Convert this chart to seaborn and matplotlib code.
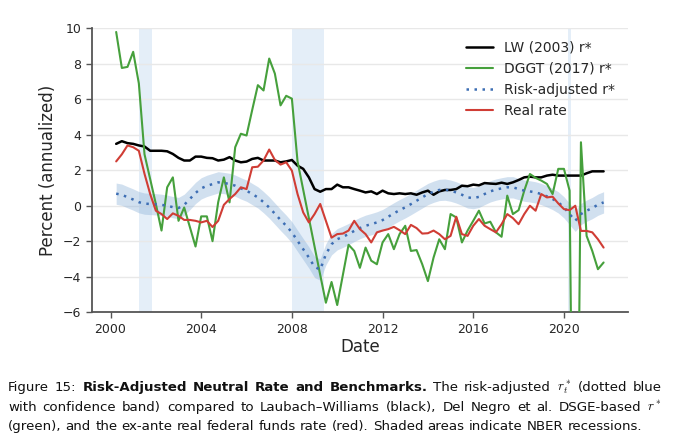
import matplotlib
matplotlib.use("Agg")
import numpy as np
import pandas as pd
import matplotlib.pyplot as plt
import seaborn as sns
from matplotlib import font_manager

# quarterly observations, 2000Q2 .. 2021Q4
quarters = pd.period_range("2000Q2", "2021Q4", freq="Q")
years = np.asarray(quarters.year + (quarters.quarter - 1) / 4, dtype=float)

lw_rstar = [
    3.49, 3.64, 3.53,
    3.49, 3.40, 3.34, 3.10,
    3.10, 3.10, 3.07, 2.92,
    2.70, 2.55, 2.55, 2.77,
    2.77, 2.70, 2.68, 2.55,
    2.60, 2.74, 2.55, 2.45,
    2.49, 2.64, 2.70, 2.55,
    2.55, 2.55, 2.45, 2.50,
    2.58, 2.26, 2.08, 1.60,
    0.94, 0.79, 0.94, 0.94,
    1.19, 1.04, 1.04, 0.94,
    0.85, 0.75, 0.81, 0.66,
    0.85, 0.70, 0.66, 0.70,
    0.66, 0.70, 0.62, 0.75,
    0.85, 0.62, 0.81, 0.89,
    0.89, 0.94, 1.13, 1.10,
    1.19, 1.15, 1.28, 1.25,
    1.23, 1.30, 1.23, 1.32,
    1.45, 1.60, 1.64, 1.60,
    1.60, 1.70, 1.75, 1.70,
    1.70, 1.70, 1.70, 1.70,
    1.83, 1.94, 1.94, 1.94,
]

dggt_rstar = [
    9.80, 7.77, 7.83,
    8.68, 6.90, 2.90, 1.50,
    0.10, -1.40, 1.04, 1.60,
    -0.85, -0.10, -1.20, -2.30,
    -0.60, -0.60, -2.00, 0.20,
    1.60, 0.19, 3.30, 4.06,
    3.96, 5.40, 6.80, 6.50,
    8.30, 7.45, 5.66, 6.20,
    6.04, 2.50, 0.90, -0.70,
    -2.30, -3.90, -5.47, -4.30,
    -5.60, -3.90, -2.20, -2.55,
    -3.50, -2.36, -3.10, -3.30,
    -2.07, -1.60, -2.45, -1.60,
    -1.13, -2.55, -2.50, -3.30,
    -4.25, -2.92, -1.89, -2.45,
    -0.47, -0.66, -2.07, -1.40,
    -0.85, -0.28, -1.00, -0.90,
    -1.50, -1.75, 0.57, -0.47,
    -0.25, 0.85, 1.79, 1.57,
    1.42, 1.23, 0.66, 2.08,
    2.08, 0.85, -30.0, 3.58,
    -1.70, -2.55, -3.58, -3.20,
]

risk_adj = [
    0.68, 0.62, 0.48,
    0.35, 0.20, 0.12, 0.10,
    0.08, 0.05, 0.00, -0.08,
    -0.13, 0.05, 0.38, 0.72,
    0.98, 1.12, 1.22, 1.32,
    1.28, 1.23, 1.13, 0.98,
    0.85, 0.66, 0.47, 0.20,
    -0.10, -0.45, -0.80, -1.13,
    -1.50, -1.98, -2.45, -2.92,
    -3.45, -3.60, -2.74, -2.17,
    -1.89, -1.75, -1.60, -1.42,
    -1.26, -1.13, -1.04, -0.94,
    -0.81, -0.62, -0.43, -0.25,
    -0.09, 0.09, 0.28, 0.47,
    0.66, 0.79, 0.89, 0.91,
    0.85, 0.75, 0.62, 0.47,
    0.43, 0.50, 0.66, 0.81,
    0.91, 0.98, 1.04, 1.04,
    0.94, 0.85, 0.81, 0.75,
    0.66, 0.53, 0.38, 0.19,
    -0.09, -0.47, -0.85, -0.47,
    -0.28, -0.13, 0.06, 0.19,
]
band_half = 0.6

real_rate = [
    2.50, 2.90, 3.40,
    3.30, 3.10, 1.80, 0.66,
    -0.28, -0.47, -0.75, -0.43,
    -0.57, -0.80, -0.80, -0.85,
    -0.94, -0.85, -1.20, -0.85,
    0.05, 0.38, 0.66, 1.04,
    0.94, 2.17, 2.20, 2.55,
    3.17, 2.58, 2.32, 2.45,
    1.98, 0.66, -0.38, -0.94,
    -0.47, 0.10, -0.85, -1.80,
    -1.60, -1.57, -1.40, -0.85,
    -1.32, -1.60, -2.07, -1.50,
    -1.40, -1.32, -1.19, -1.38,
    -1.60, -1.08, -1.26, -1.57,
    -1.55, -1.40, -1.60, -1.89,
    -1.70, -0.62, -1.60, -1.70,
    -1.13, -0.75, -1.13, -1.32,
    -1.50, -1.04, -0.47, -0.70,
    -1.04, -0.47, 0.00, -0.28,
    0.66, 0.47, 0.51, 0.13,
    -0.19, -0.25, 0.00, -1.42,
    -1.42, -1.50, -1.89, -2.36,
]

recessions = [(2001.25, 2001.83), (2008.0, 2009.42), (2020.17, 2020.33)]

df = pd.DataFrame({
    "year": years,
    "lw": lw_rstar,
    "dggt": dggt_rstar,
    "risk": risk_adj,
    "real": real_rate,
})

sns.set_theme(style="ticks")
plt.rcParams["font.family"] = ["DejaVu Sans"]
plt.rcParams["mathtext.fontset"] = "cm"

fig = plt.figure(figsize=(6.8, 4.44), dpi=100)
ax = fig.add_axes([0.135, 0.297, 0.7885, 0.639])

for start, end in recessions:
    ax.axvspan(start, end, color="#d3e4f4", alpha=0.6, lw=0, zorder=0)

ax.fill_between(df["year"], df["risk"] - band_half, df["risk"] + band_half,
                color="#8db2d9", alpha=0.4, lw=0, zorder=1)

sns.lineplot(data=df, x="year", y="lw", color="black", lw=1.8,
             label="LW (2003) r*", ax=ax, zorder=3)
sns.lineplot(data=df, x="year", y="dggt", color="#46a03c", lw=1.5,
             label="DGGT (2017) r*", ax=ax, zorder=3)
sns.lineplot(data=df, x="year", y="risk", color="#3d6eb4", lw=1.8,
             linestyle=(0, (1, 2.2)), label="Risk-adjusted r*", ax=ax, zorder=3)
sns.lineplot(data=df, x="year", y="real", color="#d03d35", lw=1.5,
             label="Real rate", ax=ax, zorder=3)

ax.set_ylim(-6, 10)
ax.set_yticks(range(-6, 11, 2))
ax.set_xticks(range(2000, 2021, 4))
ax.grid(axis="y", color="#e8e8e8", lw=1)
ax.set_axisbelow(True)
sns.despine(ax=ax)
for side in ["left", "bottom"]:
    ax.spines[side].set_color("#555555")
    ax.spines[side].set_linewidth(1.3)
ax.tick_params(labelsize=9, length=4, color="#555555", width=1)
ax.set_xlabel("Date", fontsize=12, labelpad=2)
ax.set_ylabel("Percent (annualized)", fontsize=12)
ax.legend(loc="upper right", frameon=False, fontsize=10)

# caption below the chart, justified like the LaTeX original
available = {f.name for f in font_manager.fontManager.ttflist}
if "Liberation Sans Narrow" in available:
    cap_font, cap_size = "Liberation Sans Narrow", 11.5
else:
    cap_font, cap_size = "DejaVu Sans", 9.6

caption_lines = [
    [("Figure", "normal"), ("15:", "normal"), ("Risk-Adjusted", "bold"),
     ("Neutral", "bold"), ("Rate", "bold"), ("and", "bold"),
     ("Benchmarks.", "bold"), ("The", "normal"), ("risk-adjusted", "normal"),
     ("$r^*_t$", "normal"), ("(dotted", "normal"), ("blue", "normal")],
    [("with", "normal"), ("confidence", "normal"), ("band)", "normal"),
     ("compared", "normal"), ("to", "normal"), ("Laubach\u2013Williams", "normal"),
     ("(black),", "normal"), ("Del", "normal"), ("Negro", "normal"),
     ("et", "normal"), ("al.", "normal"), ("DSGE-based", "normal"),
     ("$r^*$", "normal")],
    [("(green),", "normal"), ("and", "normal"), ("the", "normal"),
     ("ex-ante", "normal"), ("real", "normal"), ("federal", "normal"),
     ("funds", "normal"), ("rate", "normal"), ("(red).", "normal"),
     ("Shaded", "normal"), ("areas", "normal"), ("indicate", "normal"),
     ("NBER", "normal"), ("recessions.", "normal")],
]
baselines = [391, 411, 430]

W, H = 680, 444
renderer = fig.canvas.get_renderer()
probe = fig.text(0, 0, "x x", fontsize=cap_size, family=cap_font)
probe2 = fig.text(0, 0, "xx", fontsize=cap_size, family=cap_font)
space_w = (probe.get_window_extent(renderer).width
           - probe2.get_window_extent(renderer).width)
probe.remove()
probe2.remove()

left, right = 8, 662
for i, (words, base) in enumerate(zip(caption_lines, baselines)):
    texts = [fig.text(0, 1 - base / H, w, fontsize=cap_size, fontweight=wt,
                      family=cap_font, va="baseline", ha="left", color="#111111")
             for w, wt in words]
    widths = [t.get_window_extent(renderer).width for t in texts]
    if i < len(caption_lines) - 1:
        gap = (right - left - sum(widths)) / (len(words) - 1)
    else:
        gap = space_w
    x = left
    for t, w in zip(texts, widths):
        t.set_x(x / W)
        x += w + gap

fig.savefig("out.png", dpi=100)
